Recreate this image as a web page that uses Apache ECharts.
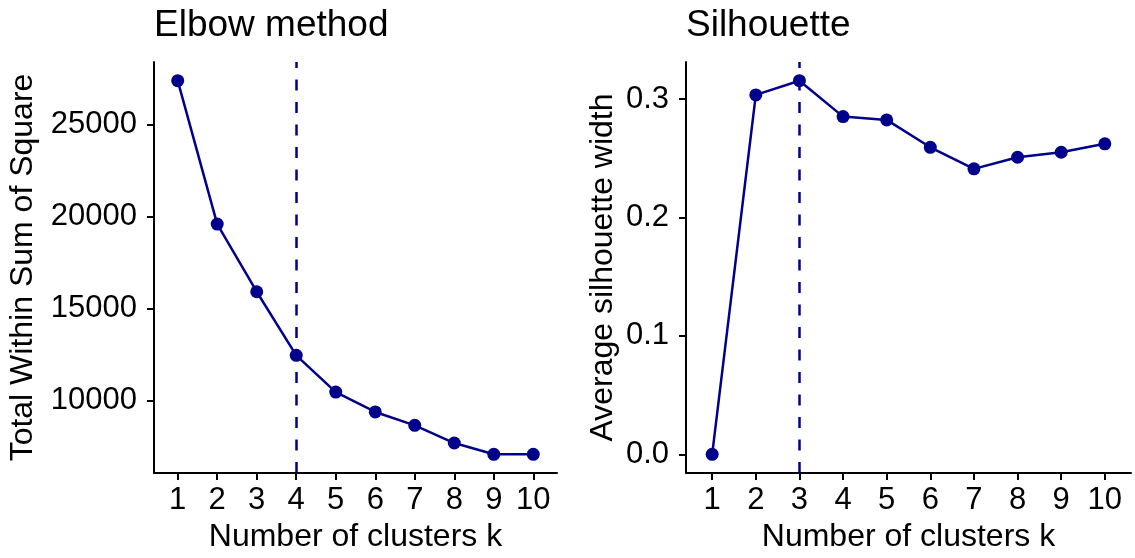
<!DOCTYPE html>
<html>
<head>
<meta charset="utf-8">
<script src="https://cdn.jsdelivr.net/npm/echarts@6/dist/echarts.min.js"></script>
<style>
  html, body { margin: 0; padding: 0; background: #fff; }
  #chart { width: 1135px; height: 558px; }
</style>
</head>
<body>
<div id="chart"></div>
<script>
  // number of clusters k
  var clusters = [1, 2, 3, 4, 5, 6, 7, 8, 9, 10]
  // elbow: total within sum of square
  var wss = [27390, 19590, 15910, 12450, 10450, 9370, 8640, 7680, 7065, 7065]
  // silhouette: average silhouette width
  var silhouette = [0, 0.3034, 0.3154, 0.2851, 0.2823, 0.2592, 0.2410, 0.2508, 0.2550, 0.2621]
  var wssTicks = [10000, 15000, 20000, 25000]
  var silTicks = [0, 0.1, 0.2, 0.3]
  var elbowK = 4
  var silK = 3

  var navy = '#00008B'
  var font = 'Liberation Sans, Helvetica, Arial, sans-serif'

  function pairs(ys) {
    return clusters.map(function (k, i) { return [k, ys[i]] })
  }

  function xAxis(gridIndex) {
    return {
      type: 'value',
      gridIndex: gridIndex,
      min: 0.4,
      max: 10.6,
      name: 'Number of clusters k',
      nameLocation: 'middle',
      nameGap: 47,
      nameTextStyle: { fontFamily: font, fontSize: 32, color: '#000' },
      axisLine: { show: true, onZero: false, lineStyle: { color: '#000', width: 2 } },
      axisTick: { show: true, length: 7, customValues: clusters, lineStyle: { color: '#000', width: 2 } },
      axisLabel: { customValues: clusters, margin: 12, fontFamily: font, fontSize: 31, color: '#000' },
      splitLine: { show: false }
    }
  }

  function yAxis(gridIndex, min, max, ticks, name, gap, fmt) {
    return {
      type: 'value',
      gridIndex: gridIndex,
      min: min,
      max: max,
      name: name,
      nameLocation: 'middle',
      nameGap: gap,
      nameTextStyle: { fontFamily: font, fontSize: 32, color: '#000' },
      axisLine: { show: true, onZero: false, lineStyle: { color: '#000', width: 2 } },
      axisTick: { show: true, length: 7, customValues: ticks, lineStyle: { color: '#000', width: 2 } },
      axisLabel: { customValues: ticks, margin: 17, fontFamily: font, fontSize: 31, color: '#000', formatter: fmt },
      splitLine: { show: false }
    }
  }

  function series(idx, ys, vline) {
    return {
      type: 'line',
      xAxisIndex: idx,
      yAxisIndex: idx,
      data: pairs(ys),
      symbol: 'circle',
      symbolSize: 13,
      itemStyle: { color: navy },
      lineStyle: { color: navy, width: 2.5 },
      animation: false,
      markLine: {
        silent: true,
        symbol: 'none',
        label: { show: false },
        lineStyle: { color: navy, width: 2.5, type: [11, 11.5] },
        data: [{ xAxis: vline }]
      }
    }
  }

  var myChart = echarts.init(document.getElementById('chart'))
  var option = {
    animation: false,
    title: [
      { text: 'Elbow method', left: 154, top: 7, padding: 0,
        textStyle: { fontFamily: font, fontSize: 37, fontWeight: 'normal', color: '#000' } },
      { text: 'Silhouette', left: 686, top: 7, padding: 0,
        textStyle: { fontFamily: font, fontSize: 37, fontWeight: 'normal', color: '#000' } }
    ],
    grid: [
      { left: 154, top: 62, width: 403, bottom: 85 },
      { left: 686, top: 62, width: 445, bottom: 85 }
    ],
    xAxis: [xAxis(0), xAxis(1)],
    yAxis: [
      yAxis(0, 6049, 28407, wssTicks, 'Total Within Sum of Square', 115, function (v) { return String(v) }),
      yAxis(1, -0.01577, 0.3312, silTicks, 'Average silhouette width', 67, function (v) { return v.toFixed(1) })
    ],
    series: [series(0, wss, elbowK), series(1, silhouette, silK)]
  }
  myChart.setOption(option)
</script>
</body>
</html>
